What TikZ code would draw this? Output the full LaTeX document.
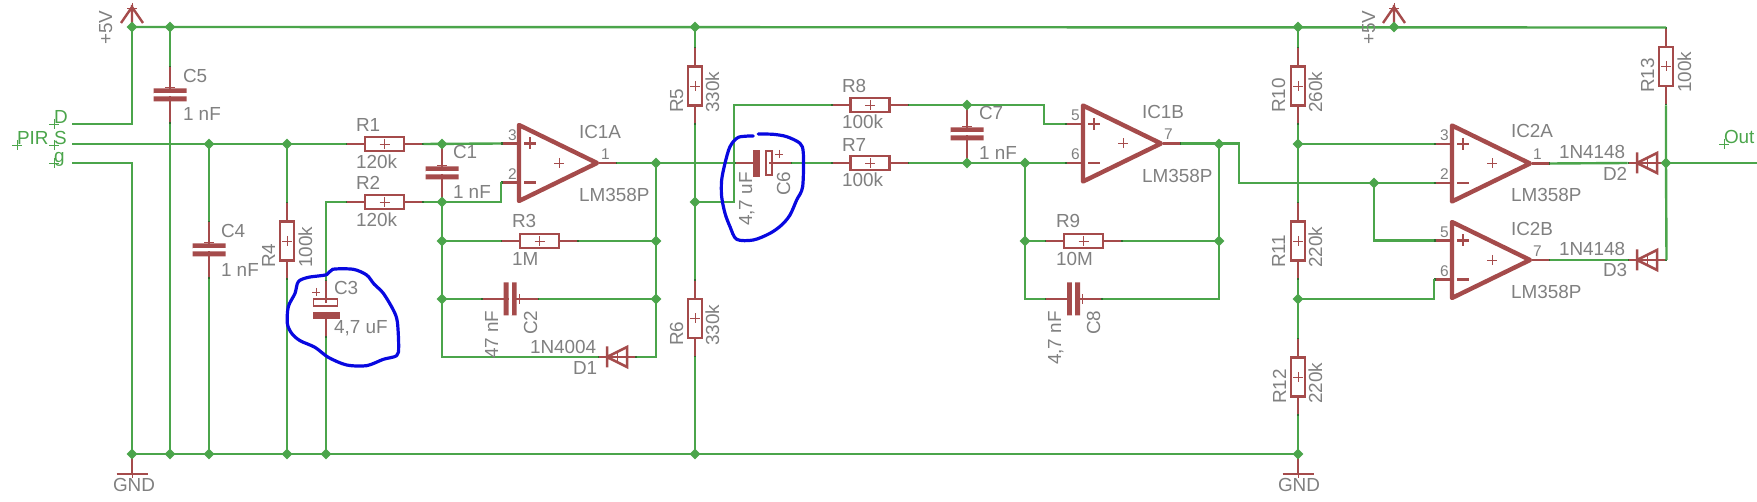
\documentclass[tikz,border=0pt]{standalone}
\usepackage{fontspec}
\setmainfont{Liberation Sans}
\usetikzlibrary{shapes.geometric,calc}
\definecolor{sym}{HTML}{A54B4B}
\definecolor{net}{HTML}{4BA54B}
\definecolor{pintick}{HTML}{2F6A2F}
\definecolor{txt}{HTML}{808080}
\definecolor{scribble}{HTML}{0808E0}
\newcounter{lblno}
\tikzset{
  wire/.style={draw=net,line width=2.4pt},
  lead/.style={draw=sym,line width=2.4pt},
  symline/.style={draw=sym,line width=2.5pt},
  opbody/.style={draw=sym,line width=4.4pt,line join=round},
  thin cross/.style={draw=sym,line width=0.9pt},
  tick/.style={draw=pintick,line width=2.4pt},
  resbox/.style={draw=sym,line width=2.4pt,fill=none,inner sep=0pt,outer sep=0pt,minimum width=#1},
  plate/.style={fill=sym,draw=none,inner sep=0pt,outer sep=0pt},
  dot/.style={diamond,fill=net,draw=none,inner sep=0pt,minimum width=11pt,minimum height=11pt},
  lbl/.style={text=txt,anchor=base west,inner sep=0pt,outer sep=0pt,font=\fontsize{18.9}{20}\selectfont},
  pinlbl/.style={lbl,font=\fontsize{15.5}{17}\selectfont},
  netlbl/.style={lbl,text=net},
  blob/.style={draw=scribble,line width=3.2pt,line join=round,line cap=round}
}
% small origin cross
\newcommand{\Xc}[3][sym]{\draw[thin cross,draw=#1] (#2-5,#3)--(#2+5,#3) (#2,#3-5)--(#2,#3+5);}
% labels
\newcommand{\Lab}[3]{\stepcounter{lblno}\node[lbl] (t\thelblno) at (#1,#2) {#3};}
\newcommand{\Rlab}[3]{\stepcounter{lblno}\node[lbl,rotate=90] (t\thelblno) at (#1,#2) {#3};}
\newcommand{\Pin}[3]{\stepcounter{lblno}\node[pinlbl] (t\thelblno) at (#1,#2) {#3};}
\newcommand{\NetLab}[3]{\stepcounter{lblno}\node[netlbl] (t\thelblno) at (#1,#2) {#3};\Xc[net]{#1}{#2}}
% horizontal / vertical resistor: name x y -> name-a, name-b are pins
\newcommand{\Rh}[3]{%
  \node[resbox=39pt,minimum height=14pt] (#1) at (#2,#3) {};
  \coordinate (#1-a) at (#2-39,#3); \coordinate (#1-b) at (#2+39,#3);
  \draw[lead] (#1-a)--(#1.west) (#1.east)--(#1-b);
  \draw[tick] (#1-a)--++(1.5,0) (#1-b)--++(-1.5,0);
  \Xc{#2}{#3}}
\newcommand{\Rv}[3]{%
  \node[resbox=14pt,minimum height=39pt] (#1) at (#2,#3) {};
  \coordinate (#1-a) at (#2,#3-39); \coordinate (#1-b) at (#2,#3+39);
  \draw[lead] (#1-a)--(#1.north) (#1.south)--(#1-b);
  \draw[tick] (#1-a)--++(0,1.5) (#1-b)--++(0,-1.5);
  \Xc{#2}{#3}}
% non-polar capacitors
\newcommand{\Cv}[3]{%
  \coordinate (#1-a) at (#2,#3-29); \coordinate (#1-b) at (#2,#3+29);
  \draw[lead] (#1-a)--(#1-b);
  \fill[sym] (#2-16.5,#3-6.5) rectangle (#2+16.5,#3-1.5) (#2-16.5,#3+1.5) rectangle (#2+16.5,#3+6.5);
  \fill[white] (#2-16.5,#3-1.5) rectangle (#2+16.5,#3+1.5);
  \draw[tick] (#1-a)--++(0,1.5) (#1-b)--++(0,-1.5);
  \Xc{#2}{#3-8}}
\newcommand{\Ch}[3]{%
  \coordinate (#1-a) at (#2-29,#3); \coordinate (#1-b) at (#2+29,#3);
  \draw[lead] (#1-a)--(#1-b);
  \fill[sym] (#2-6.5,#3-16.5) rectangle (#2-1.5,#3+16.5) (#2+1.5,#3-16.5) rectangle (#2+6.5,#3+16.5);
  \fill[white] (#2-1.5,#3-16.5) rectangle (#2+1.5,#3+16.5);
  \draw[tick] (#1-a)--++(1.5,0) (#1-b)--++(-1.5,0);
  \Xc{#2+9}{#3}}
% op amp: name bodyx centery
\newcommand{\Opamp}[3]{%
  \coordinate (#1-p) at (#2-18,#3-19.5); \coordinate (#1-m) at (#2-18,#3+19.5); \coordinate (#1-o) at (#2+98,#3);
  \draw[lead] (#1-p)--++(18,0) (#1-m)--++(18,0) (#1-o)--++(-18,0);
  \draw[tick] (#1-p)--++(1.5,0) (#1-m)--++(1.5,0) (#1-o)--++(-1.5,0);
  \node[inner sep=0pt] (#1) at (#2+40,#3) {};
  \draw[opbody] (#2,#3-38)--(#2+78,#3)--(#2,#3+38)--cycle;
  \draw[draw=sym,line width=2.2pt] (#2+5,#3-19.5)--(#2+17,#3-19.5) (#2+11,#3-25.5)--(#2+11,#3-13.5) (#2+5,#3+19.5)--(#2+17,#3+19.5);
  \Xc{#2+40}{#3}}
% diode: name barx y (bar on the left)
\newcommand{\Diode}[3]{%
  \coordinate (#1-a) at (#2-9.5,#3); \coordinate (#1-b) at (#2+29.5,#3);
  \draw[lead] (#1-a)--(#1-b);
  \draw[symline] (#2,#3-10.5)--(#2,#3+10.5) (#2+20,#3-10)--(#2+20,#3+10)--(#2,#3)--cycle;
  \draw[tick] (#1-a)--++(1.5,0) (#1-b)--++(-1.5,0);
  \Xc{#2+10}{#3}}
\newcommand{\Vcc}[3]{%
  \coordinate (#1) at (#2,#3);
  \draw[lead] (#1)--++(0,-22) (#2-11,#3-4)--(#2,#3-20)--(#2+11,#3-4);
  \Xc{#2}{#3-19}}
\newcommand{\Gnd}[3]{%
  \coordinate (#1) at (#2,#3);
  \draw[lead] (#1)--(#2,#3+20);
  \draw[lead] (#2-15.5,#3+20)--(#2+15.5,#3+20);
  \draw[thin cross] (#2,#3+20)--(#2,#3+24);}
\begin{document}
\begin{tikzpicture}[x=1pt,y=-1pt]
\useasboundingbox (0,0) rectangle (1757,502);
% ---- components
\Vcc{vccA}{132}{27}
\Vcc{vccB}{1394}{27}
\Gnd{gndA}{132}{454}
\Gnd{gndB}{1298}{454}
\Rh{R1}{384.5}{144}
\Rh{R2}{384.5}{202}
\Rv{R4}{287}{241}
\Cv{C5}{170}{95}
\Cv{C4}{209}{250}
\Cv{C1}{442}{173}
% C3 polarised
\coordinate (C3-a) at (326,280); \coordinate (C3-b) at (326,338);
\draw[lead] (C3-a)--(326,303) (326,312)--(C3-b);
\draw[tick] (C3-a)--++(0,1.5) (C3-b)--++(0,-1.5);
\node[resbox=24pt,minimum height=7.5pt,line width=1.8pt] (C3) at (325.5,302.5) {};
\fill[sym] (313,312) rectangle (340,319);
\draw[thin cross] (312,292)--(320,292) (316,288)--(316,296);
% C6 polarised
\coordinate (C6-a) at (734,163); \coordinate (C6-b) at (792,163);
\draw[lead] (C6-a)--(757,163) (769,163)--(C6-b);
\draw[tick] (C6-a)--++(1.5,0) (C6-b)--++(-1.5,0);
\node[resbox=6.5pt,minimum height=24pt,line width=1.8pt] (C6) at (769,163) {};
\fill[sym] (753,150) rectangle (760,177);
\draw[thin cross] (775,154)--(783,154) (779,150)--(779,158);
\Rv{R5}{695}{86}
\Rv{R6}{695}{318.5}
\Rh{R3}{539.5}{241}
\Ch{C2}{510}{299}
\Diode{D1}{607}{357}
\Opamp{IC1A}{519}{163}
\Rh{R8}{870}{105}
\Rh{R7}{870}{163}
\Cv{C7}{967}{134}
\Opamp{IC1B}{1083}{143.5}
\Rh{R9}{1083.5}{241}
\Ch{C8}{1073.5}{299}
\Rv{R10}{1298}{86}
\Rv{R11}{1298}{241}
\Rv{R12}{1298}{377}
\Rv{R13}{1666}{66.5}
\Opamp{IC2A}{1452}{163.5}
\Opamp{IC2B}{1452}{260}
\Diode{D2}{1637}{163}
\Diode{D3}{1637}{260}
% ---- junctions and free ends
\coordinate (pD) at (72,124);
\coordinate (pS) at (72,144);
\coordinate (pG) at (72,163);
\coordinate (pOut) at (1757,163);
\node[dot] (jA) at (132,27) {};
\node[dot] (jB) at (170,27) {};
\node[dot] (jC) at (695,27) {};
\node[dot] (jD) at (1298,27) {};
\node[dot] (jE) at (1394,27) {};
\node[dot] (jF) at (209,144) {};
\node[dot] (jG) at (287,144) {};
\node[dot] (jH) at (442,144) {};
\node[dot] (jI) at (442,202) {};
\node[dot] (jJ) at (442,241) {};
\node[dot] (jK) at (442,299) {};
\node[dot] (jL) at (656,163) {};
\node[dot] (jM) at (656,241) {};
\node[dot] (jN) at (656,299) {};
\node[dot] (jO) at (695,202) {};
\node[dot] (jP) at (967,105) {};
\node[dot] (jQ) at (967,163) {};
\node[dot] (jR) at (1025,163) {};
\node[dot] (jS) at (1025,241) {};
\node[dot] (jT) at (1219,144) {};
\node[dot] (jU) at (1219,241) {};
\node[dot] (jV) at (1298,144) {};
\node[dot] (jW) at (1298,299) {};
\node[dot] (jX) at (1374,183) {};
\node[dot] (jY) at (1666,163) {};
\node[dot] (g1) at (132,454) {};
\node[dot] (g2) at (170,454) {};
\node[dot] (g3) at (209,454) {};
\node[dot] (g4) at (287,454) {};
\node[dot] (g5) at (326,454) {};
\node[dot] (g6) at (695,454) {};
\node[dot] (g7) at (1298,454) {};
% ---- wires
\draw[wire] (jA.center)--(R13-a);
\draw[wire] (g1.center)--(g7.center);
\draw[wire] (pD)-|(jA.center);
\draw[wire] (pS)--(R1-a);
\draw[wire] (pG)-|(g1.center);
\draw[wire] (jB.center)--(C5-a) (C5-b)--(g2.center);
\draw[wire] (jF.center)--(C4-a) (C4-b)--(g3.center);
\draw[wire] (jG.center)--(R4-a) (R4-b)--(g4.center);
\draw[wire] (R2-a)-|(C3-a) (C3-b)--(g5.center);
\draw[wire] (R1-b)--(IC1A-p);
\draw[wire] (R2-b)--(jI.center)-|(IC1A-m);
\draw[wire] (jI.center)|-(D1-a);
\draw[wire] (D1-b)-|(jL.center);
\draw[wire] (jJ.center)--(R3-a) (R3-b)--(jM.center);
\draw[wire] (jK.center)--(C2-a) (C2-b)--(jN.center);
\draw[wire] (IC1A-o)--(C6-a);
\draw[wire] (jC.center)--(R5-a) (R5-b)--(R6-a) (R6-b)--(g6.center);
\draw[wire] (jO.center)-|(734,105)--(R8-a);
\draw[wire] (C6-b)--(R7-a);
\draw[wire] (R8-b)--(jP.center)-|(1044,124)--(IC1B-p);
\draw[wire] (R7-b)--(IC1B-m);
\draw[wire] (jR.center)|-(C8-a);
\draw[wire] (jS.center)--(R9-a) (R9-b)--(jU.center);
\draw[wire] (C8-b)-|(jT.center);
\draw[wire] (IC1B-o)-|(1239,183)--(IC2A-m);
\draw[wire] (jD.center)--(R10-a) (R10-b)--(R11-a) (R11-b)--(R12-a) (R12-b)--(g7.center);
\draw[wire] (jV.center)--(IC2A-p);
\draw[wire] (jX.center)|-(IC2B-p);
\draw[wire] (jW.center)-|(IC2B-m);
\draw[wire] (IC2A-o)--(D2-a);
\draw[wire] (IC2B-o)--(D3-a);
\draw[wire] (R13-b)--(jY.center)--(D3-b);
\draw[wire] (D2-b)--(pOut);
% ---- labels
\NetLab{54}{124}{D}
\NetLab{17}{145}{PIR}
\NetLab{54}{145}{S}
\NetLab{54}{163}{g}
\NetLab{1724}{144}{Out}
\Rlab{112}{45}{+5V}
\Rlab{1375}{45}{+5V}
\Lab{113}{492}{GND}
\Lab{1278}{492}{GND}
\Lab{183}{83}{C5}\Lab{183}{121}{1 nF}
\Lab{221}{238}{C4}\Lab{221}{277}{1 nF}
\Lab{356}{132}{R1}\Lab{356}{169}{120k}
\Lab{356}{190}{R2}\Lab{356}{227}{120k}
\Rlab{275}{268}{R4}\Rlab{312}{268}{100k}
\Lab{334}{295}{C3}\Lab{334}{334}{4,7 uF}
\Lab{453}{159}{C1}\Lab{453}{199}{1 nF}
\Lab{512}{228}{R3}\Lab{512}{266}{1M}
\Rlab{537}{335}{C2}\Rlab{498}{359}{47 nF}
\Lab{530}{354}{1N4004}\Lab{573}{375}{D1}
\Lab{579}{139}{IC1A}\Lab{579}{202}{LM358P}
\Pin{508}{141}{3}\Pin{508}{180}{2}\Pin{601}{160}{1}
\Rlab{683}{113}{R5}\Rlab{719}{113}{330k}
\Rlab{683}{346}{R6}\Rlab{719}{346}{330k}
\Rlab{790}{196}{C6}\Rlab{752}{226}{4,7 uF}
\Lab{842}{93}{R8}\Lab{842}{129}{100k}
\Lab{842}{152}{R7}\Lab{842}{187}{100k}
\Lab{979}{120}{C7}\Lab{979}{160}{1 nF}
\Lab{1142}{119}{IC1B}\Lab{1142}{183}{LM358P}
\Pin{1071}{121}{5}\Pin{1071}{160}{6}\Pin{1164}{140}{7}
\Lab{1056}{228}{R9}\Lab{1056}{266}{10M}
\Rlab{1100}{335}{C8}\Rlab{1061}{365}{4,7 nF}
\Rlab{1285}{113}{R10}\Rlab{1322}{113}{260k}
\Rlab{1285}{268}{R11}\Rlab{1322}{268}{220k}
\Rlab{1286}{404}{R12}\Rlab{1322}{404}{220k}
\Rlab{1654}{93}{R13}\Rlab{1691}{93}{100k}
\Lab{1511}{138}{IC2A}\Lab{1511}{202}{LM358P}
\Pin{1440}{141}{3}\Pin{1440}{180}{2}\Pin{1533}{160}{1}
\Lab{1511}{236}{IC2B}\Lab{1511}{299}{LM358P}
\Pin{1440}{238}{5}\Pin{1440}{277}{6}\Pin{1533}{257}{7}
\Lab{1559}{159}{1N4148}\Lab{1603}{181}{D2}
\Lab{1559}{256}{1N4148}\Lab{1603}{277}{D3}
% ---- hand-drawn scribbles
\begin{scope}[shift={(0,250)},x=0.33333pt,y=-0.33333pt]
\draw[blob] plot[smooth cycle,tension=0.5] coordinates {(998,58)(1060,58)(1100,75)(1122,102)(1150,130)(1180,180)(1192,215)(1196,290)(1190,317)(1150,328)(1100,347)(1040,345)(985,322)(945,292)(900,272)(875,250)(862,220)(865,170)(885,130)(895,95)(925,82)(980,74)};
\end{scope}
\begin{scope}[shift={(420,80)},x=0.33333pt,y=-0.33333pt]
\draw[blob] plot[smooth,tension=0.5] coordinates {(1000,168)(955,172)(930,200)(915,250)(905,300)(905,350)(915,400)(930,440)(950,478)(1000,480)(1050,460)(1085,435)(1110,405)(1130,360)(1148,320)(1150,220)(1140,190)(1100,170)(1060,163)(1015,162)};
\end{scope}
\end{tikzpicture}
\end{document}
